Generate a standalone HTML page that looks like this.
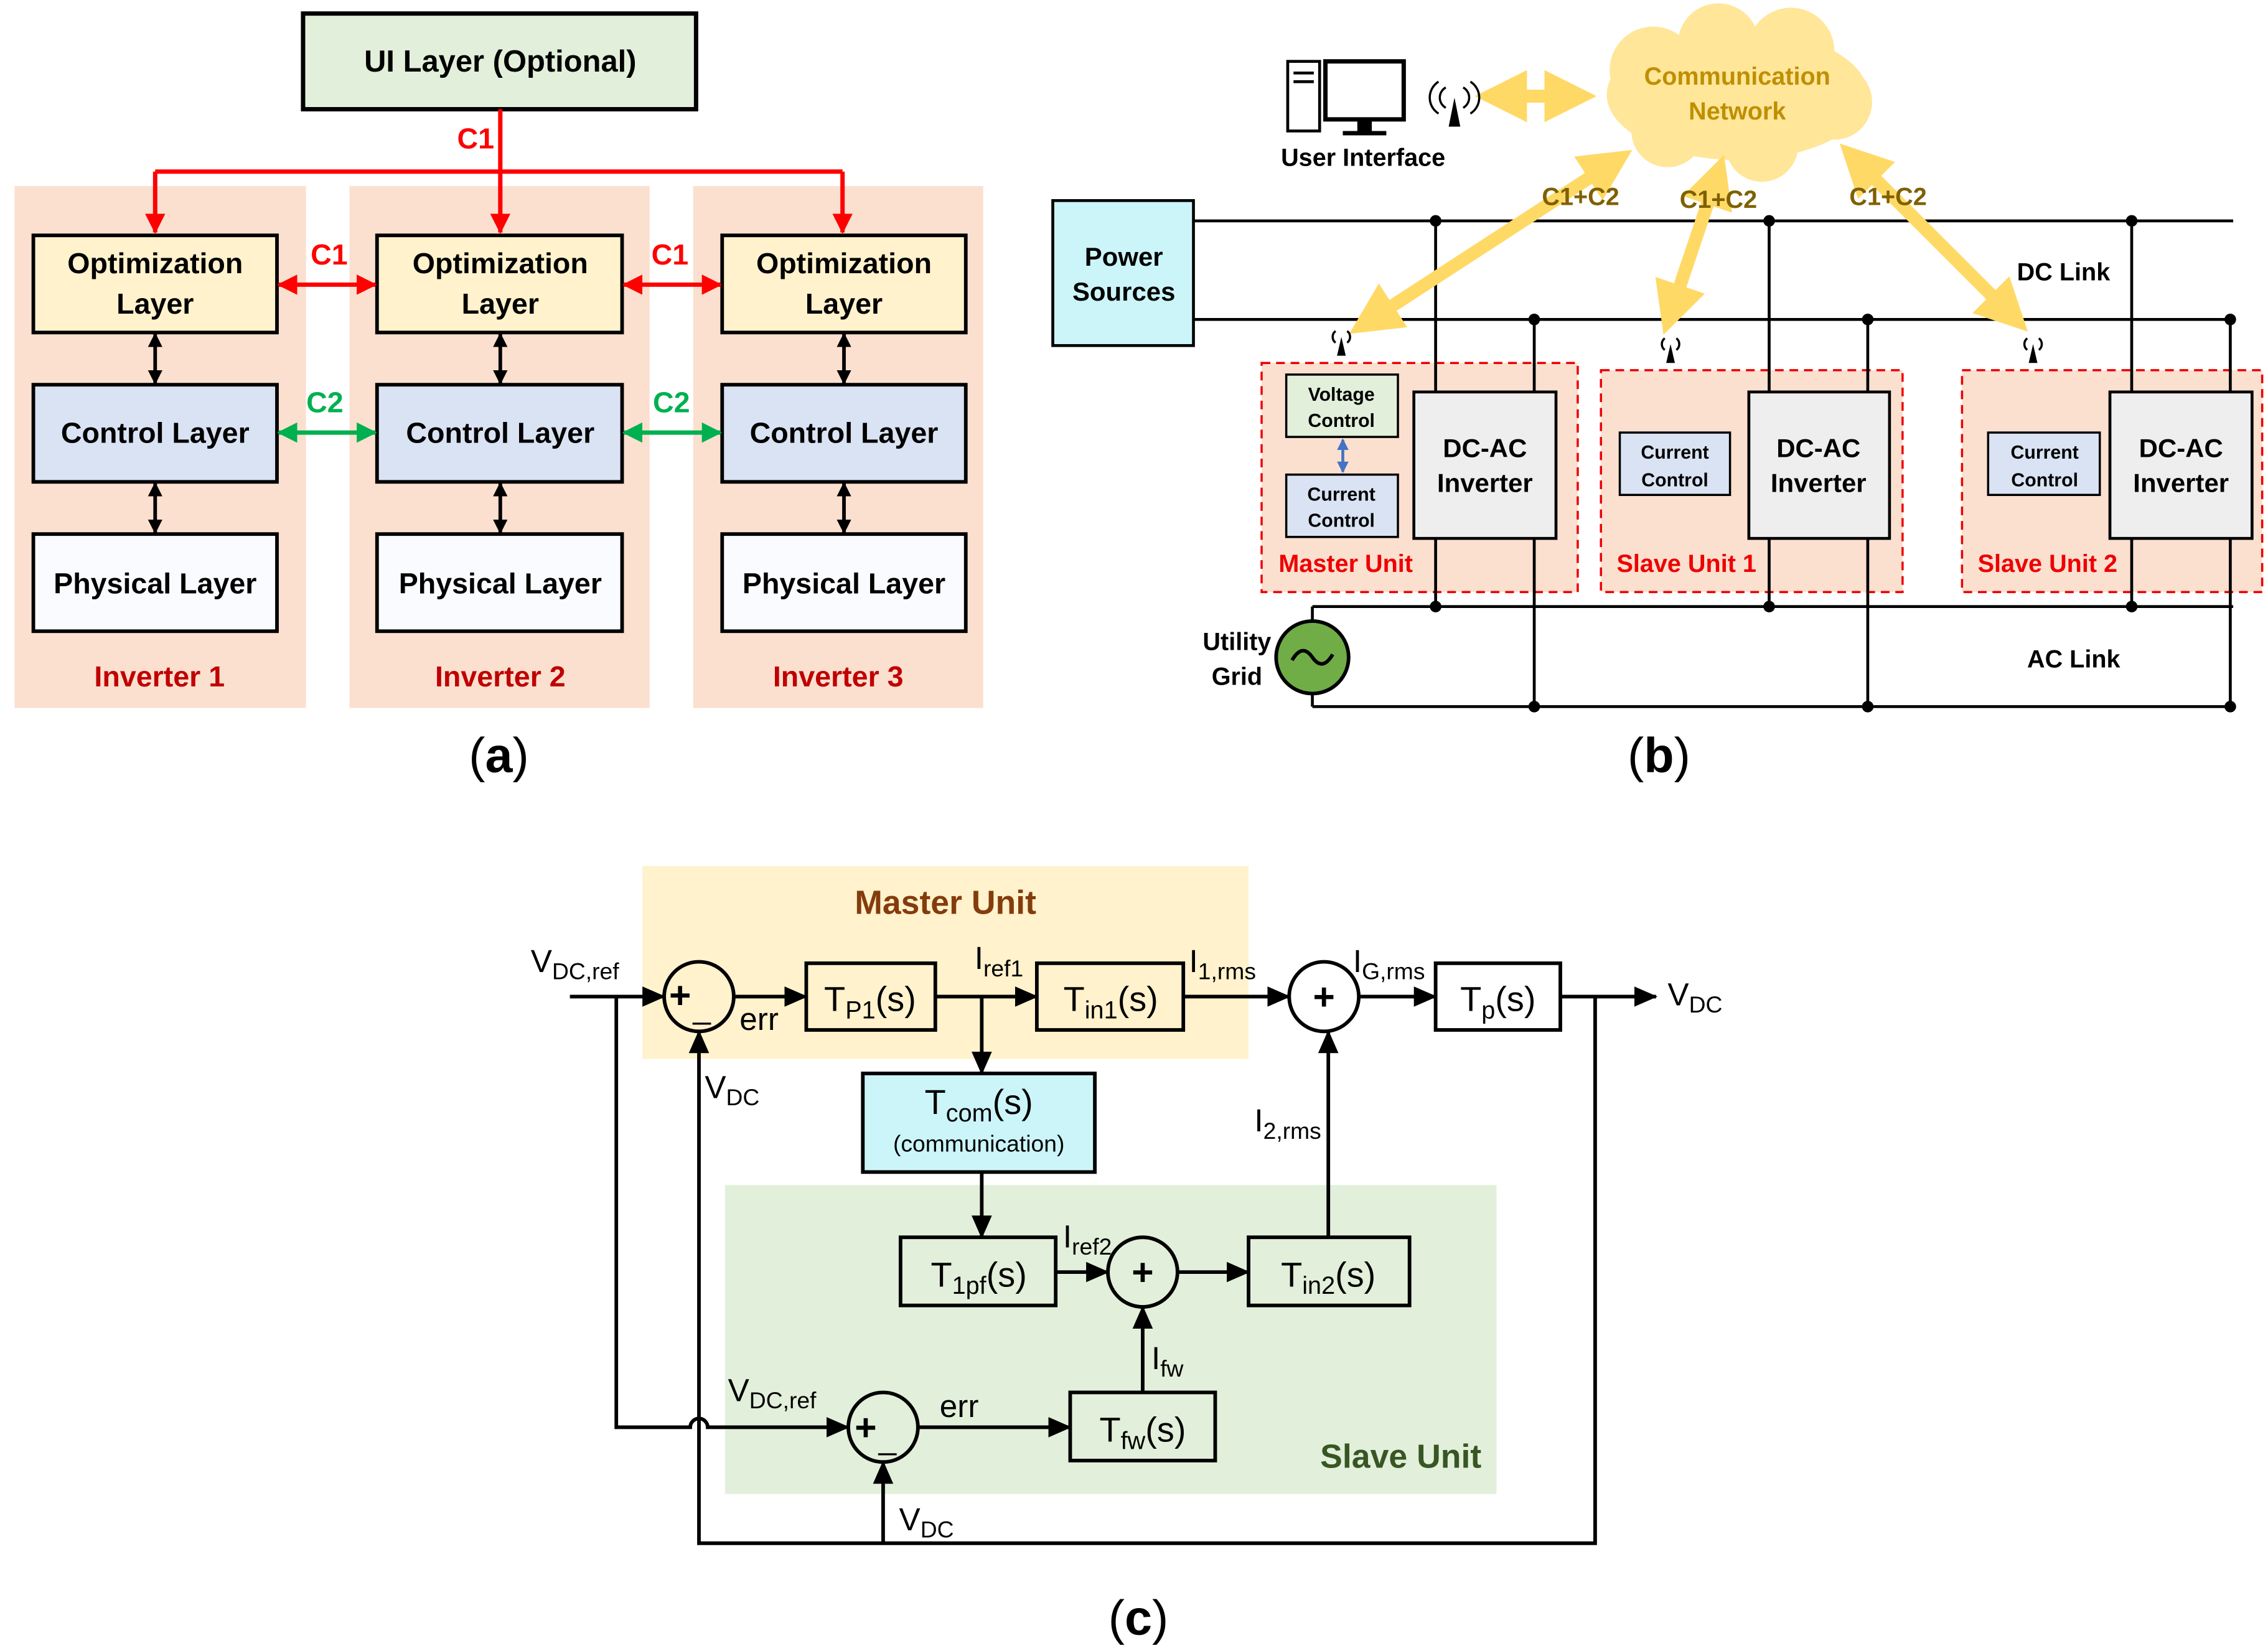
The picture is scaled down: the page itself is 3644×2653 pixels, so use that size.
<!DOCTYPE html>
<html><head><meta charset="utf-8"><style>
html,body{margin:0;padding:0;background:#fff}
svg{display:block}
text{font-family:"Liberation Sans",sans-serif}
.b{font-weight:bold}
</style></head><body>
<svg width="3644" height="2653" viewBox="0 0 1564 1138" xmlns="http://www.w3.org/2000/svg">
<defs>
<marker id="akb" markerWidth="16" markerHeight="16" refX="15" refY="8" orient="auto" markerUnits="userSpaceOnUse" viewBox="0 0 16 16"><path d="M0,1 L16,8 L0,15 z" fill="#000"/></marker>
<marker id="ar" markerWidth="14" markerHeight="14" refX="13" refY="7" orient="auto-start-reverse" markerUnits="userSpaceOnUse" viewBox="0 0 14 14"><path d="M0,0 L14,7 L0,14 z" fill="#f00"/></marker>
<marker id="ag" markerWidth="14" markerHeight="14" refX="13" refY="7" orient="auto-start-reverse" markerUnits="userSpaceOnUse" viewBox="0 0 14 14"><path d="M0,0 L14,7 L0,14 z" fill="#00b050"/></marker>
<marker id="a2" markerWidth="10" markerHeight="10" refX="9" refY="5" orient="auto-start-reverse" markerUnits="userSpaceOnUse" viewBox="0 0 10 10"><path d="M0,0 L10,5 L0,10 z" fill="#000"/></marker>
<marker id="ab" markerWidth="8" markerHeight="8" refX="7" refY="4" orient="auto-start-reverse" markerUnits="userSpaceOnUse" viewBox="0 0 8 8"><path d="M0,0 L8,4 L0,8 z" fill="#4472c4"/></marker>
<marker id="ay" markerWidth="4" markerHeight="4" refX="3" refY="2" orient="auto-start-reverse" viewBox="0 0 4 4"><path d="M0,0 L4,2 L0,4 z" fill="#ffd966"/></marker>
</defs>

<!-- Panel (a) -->
<rect x="10" y="128" width="201" height="360" fill="#fbe0d0"/>
<rect x="241" y="128" width="207" height="360" fill="#fbe0d0"/>
<rect x="478" y="128" width="200" height="360" fill="#fbe0d0"/>
<rect x="209" y="9" width="271" height="66" fill="#e2efda" stroke="#000" stroke-width="3"/>
<text x="345" y="49" font-size="21" text-anchor="middle" class="b">UI Layer (Optional)</text>
<path d="M345,75 V118 M107,118 H581" stroke="#f00" stroke-width="3" fill="none"/>
<g stroke="#f00" stroke-width="3" fill="none" marker-end="url(#ar)">
<line x1="107" y1="118" x2="107" y2="160"/><line x1="345" y1="118" x2="345" y2="160"/><line x1="581" y1="118" x2="581" y2="160"/>
</g>
<text x="328" y="102" font-size="20" fill="#f00" class="b" text-anchor="middle">C1</text>
<g stroke="#000" stroke-width="2.5">
<rect x="23" y="162" width="168" height="67" fill="#fff2cc"/><rect x="260" y="162" width="169" height="67" fill="#fff2cc"/><rect x="498" y="162" width="168" height="67" fill="#fff2cc"/>
<rect x="23" y="265" width="168" height="67" fill="#dae3f3"/><rect x="260" y="265" width="169" height="67" fill="#dae3f3"/><rect x="498" y="265" width="168" height="67" fill="#dae3f3"/>
<rect x="23" y="368" width="168" height="67" fill="#fafbfe"/><rect x="260" y="368" width="169" height="67" fill="#fafbfe"/><rect x="498" y="368" width="168" height="67" fill="#fafbfe"/>
</g>
<g font-size="20" text-anchor="middle" class="b">
<text x="107" y="188">Optimization</text><text x="107" y="216">Layer</text>
<text x="345" y="188">Optimization</text><text x="345" y="216">Layer</text>
<text x="582" y="188">Optimization</text><text x="582" y="216">Layer</text>
<text x="107" y="305">Control Layer</text><text x="345" y="305">Control Layer</text><text x="582" y="305">Control Layer</text>
<text x="107" y="409">Physical Layer</text><text x="345" y="409">Physical Layer</text><text x="582" y="409">Physical Layer</text>
</g>
<g font-size="20" text-anchor="middle" class="b" fill="#c00000">
<text x="110" y="473">Inverter 1</text><text x="345" y="473">Inverter 2</text><text x="578" y="473">Inverter 3</text>
</g>
<g stroke="#000" stroke-width="2.5" marker-start="url(#a2)" marker-end="url(#a2)">
<line x1="107" y1="230" x2="107" y2="264"/><line x1="345" y1="230" x2="345" y2="264"/><line x1="582" y1="230" x2="582" y2="264"/>
<line x1="107" y1="333" x2="107" y2="367"/><line x1="345" y1="333" x2="345" y2="367"/><line x1="582" y1="333" x2="582" y2="367"/>
</g>
<g stroke="#f00" stroke-width="3" marker-start="url(#ar)" marker-end="url(#ar)"><line x1="192" y1="196" x2="259" y2="196"/><line x1="430" y1="196" x2="497" y2="196"/></g>
<g stroke="#00b050" stroke-width="3" marker-start="url(#ag)" marker-end="url(#ag)"><line x1="192" y1="298" x2="259" y2="298"/><line x1="430" y1="298" x2="497" y2="298"/></g>
<g font-size="20" class="b" text-anchor="middle"><text x="227" y="182" fill="#f00">C1</text><text x="462" y="182" fill="#f00">C1</text><text x="224" y="284" fill="#00b050">C2</text><text x="463" y="284" fill="#00b050">C2</text></g>
<text x="344" y="532" font-size="34" text-anchor="middle" font-family="Liberation Serif,serif">(<tspan font-weight="bold">a</tspan>)</text>

<!-- Panel (b) -->
<rect x="870" y="250" width="218" height="158" fill="#fbe0d0" stroke="#e00" stroke-width="1.5" stroke-dasharray="6,4"/>
<rect x="1104" y="255" width="208" height="153" fill="#fbe0d0" stroke="#e00" stroke-width="1.5" stroke-dasharray="6,4"/>
<rect x="1353" y="255" width="207" height="153" fill="#fbe0d0" stroke="#e00" stroke-width="1.5" stroke-dasharray="6,4"/>
<g stroke="#000" stroke-width="2" fill="none">
<path d="M823,152 H1540 M823,220 H1540 M905,418 H1540 M905,487 H1540"/>
<path d="M990,152 V418 M1058,220 V487 M1220,152 V418 M1288,220 V487 M1470,152 V418 M1538,220 V487 M905,418 V428 M905,478 V487"/>
</g>
<g fill="#000"><circle cx="990" cy="152" r="4"/><circle cx="1220" cy="152" r="4"/><circle cx="1470" cy="152" r="4"/><circle cx="1058" cy="220" r="4"/><circle cx="1288" cy="220" r="4"/><circle cx="1538" cy="220" r="4"/><circle cx="990" cy="418" r="4"/><circle cx="1220" cy="418" r="4"/><circle cx="1470" cy="418" r="4"/><circle cx="1058" cy="487" r="4"/><circle cx="1288" cy="487" r="4"/><circle cx="1538" cy="487" r="4"/></g>
<rect x="726" y="138" width="97" height="100" fill="#ccf5fa" stroke="#000" stroke-width="2"/>
<text x="775" y="183" font-size="18" class="b" text-anchor="middle">Power</text><text x="775" y="207" font-size="18" class="b" text-anchor="middle">Sources</text>
<g stroke="#000" stroke-width="2" fill="#eeeeee"><rect x="975" y="270" width="98" height="101"/><rect x="1206" y="270" width="97" height="101"/><rect x="1455" y="270" width="98" height="101"/></g>
<g font-size="18" class="b" text-anchor="middle"><text x="1024" y="315">DC-AC</text><text x="1024" y="339">Inverter</text><text x="1254" y="315">DC-AC</text><text x="1254" y="339">Inverter</text><text x="1504" y="315">DC-AC</text><text x="1504" y="339">Inverter</text></g>
<rect x="887" y="258" width="77" height="43" fill="#e2efda" stroke="#000" stroke-width="1.5"/>
<rect x="887" y="327" width="77" height="43" fill="#dae3f3" stroke="#000" stroke-width="1.5"/>
<rect x="1117" y="298" width="76" height="43" fill="#dae3f3" stroke="#000" stroke-width="1.5"/>
<rect x="1371" y="298" width="77" height="43" fill="#dae3f3" stroke="#000" stroke-width="1.5"/>
<line x1="926" y1="303" x2="926" y2="325" stroke="#4472c4" stroke-width="2" marker-start="url(#ab)" marker-end="url(#ab)"/>
<g font-size="13" class="b" text-anchor="middle"><text x="925" y="276">Voltage</text><text x="925" y="294">Control</text><text x="925" y="345">Current</text><text x="925" y="363">Control</text>
<text x="1155" y="316">Current</text><text x="1155" y="335">Control</text><text x="1410" y="316">Current</text><text x="1410" y="335">Control</text></g>
<g font-size="17" class="b" text-anchor="middle" fill="#e00"><text x="928" y="394">Master Unit</text><text x="1163" y="394">Slave Unit 1</text><text x="1412" y="394">Slave Unit 2</text></g>
<text x="1423" y="193" font-size="17" class="b" text-anchor="middle">DC Link</text>
<text x="1430" y="460" font-size="17" class="b" text-anchor="middle">AC Link</text>
<text x="853" y="448" font-size="17" class="b" text-anchor="middle">Utility</text><text x="853" y="472" font-size="17" class="b" text-anchor="middle">Grid</text>
<circle cx="905" cy="453" r="25" fill="#70ad47" stroke="#000" stroke-width="2.5"/>
<path d="M891,455 q7,-12 14,-2 q7,10 14,-2" stroke="#000" stroke-width="2.5" fill="none"/>
<g fill="#ffe699">
<ellipse cx="1198" cy="65" rx="90" ry="45"/><circle cx="1140" cy="48" r="30"/><circle cx="1185" cy="30" r="28"/><circle cx="1235" cy="35" r="30"/><circle cx="1265" cy="70" r="26"/><circle cx="1150" cy="90" r="25"/><circle cx="1215" cy="100" r="25"/>
</g>
<text x="1198" y="58" font-size="17" class="b" text-anchor="middle" fill="#bf8f00">Communication</text>
<text x="1198" y="82" font-size="17" class="b" text-anchor="middle" fill="#bf8f00">Network</text>
<g stroke="#ffd966" stroke-width="9" marker-start="url(#ay)" marker-end="url(#ay)" fill="none">
<line x1="1026" y1="66" x2="1092" y2="66"/>
<line x1="1118" y1="108" x2="938" y2="225"/>
<line x1="1186" y1="115" x2="1150" y2="222"/>
<line x1="1275" y1="105" x2="1392" y2="222"/>
</g>
<g font-size="17" class="b" text-anchor="middle" fill="#7f6000"><text x="1090" y="141">C1+C2</text><text x="1185" y="143">C1+C2</text><text x="1302" y="141">C1+C2</text></g>
<rect x="888" y="42" width="22" height="48" fill="#fff" stroke="#000" stroke-width="2"/>
<rect x="914" y="42" width="54" height="40" fill="#fff" stroke="#000" stroke-width="3"/>
<path d="M936,82 v8 h-10 v3 h30 v-3 h-10 v-8" fill="#000"/>
<path d="M892,50 h14 M892,56 h14" stroke="#000" stroke-width="2"/>
<text x="940" y="114" font-size="17" class="b" text-anchor="middle">User Interface</text>
<g stroke="#000" stroke-width="1.5" fill="none">
<path d="M997,60 a8,8 0 0 0 0,14 M1009,60 a8,8 0 0 1 0,14 M992,56 a13,13 0 0 0 0,22 M1014,56 a13,13 0 0 1 0,22"/>
<path d="M921,228 a5,5 0 0 0 0,8 M929,228 a5,5 0 0 1 0,8 M1148,233 a5,5 0 0 0 0,8 M1156,233 a5,5 0 0 1 0,8 M1398,233 a5,5 0 0 0 0,8 M1406,233 a5,5 0 0 1 0,8"/>
</g>
<path d="M1003,67 l-4,20 h8z M925,232 l-3,13 h6z M1152,237 l-3,13 h6z M1402,237 l-3,13 h6z" fill="#000"/>
<text x="1144" y="532" font-size="34" text-anchor="middle" font-family="Liberation Serif,serif">(<tspan font-weight="bold">b</tspan>)</text>

<!-- Panel (c) -->
<rect x="443" y="597" width="418" height="133" fill="#fff2cc"/>
<rect x="500" y="817" width="532" height="213" fill="#e2efda"/>
<text x="652" y="630" font-size="23" class="b" text-anchor="middle" fill="#843c0c">Master Unit</text>
<text x="966" y="1012" font-size="23" class="b" text-anchor="middle" fill="#375623">Slave Unit</text>
<g stroke="#000" stroke-width="2.5" fill="none">
<rect x="556" y="664" width="89" height="46"/><rect x="715" y="664" width="101" height="46"/><rect x="990" y="664" width="86" height="46"/>
<rect x="621" y="853" width="107" height="47"/><rect x="861" y="853" width="111" height="47"/><rect x="738" y="960" width="100" height="47"/>
<circle cx="482" cy="687" r="24"/><circle cx="913" cy="687" r="24"/><circle cx="788" cy="877" r="24"/><circle cx="609" cy="984" r="24"/>
</g>
<rect x="595" y="740" width="160" height="68" fill="#ccf5fa" stroke="#000" stroke-width="2.5"/>
<g stroke="#000" stroke-width="2.5" fill="none" marker-end="url(#akb)">
<line x1="393" y1="687" x2="458" y2="687"/><line x1="506" y1="687" x2="556" y2="687"/><line x1="645" y1="687" x2="715" y2="687"/>
<line x1="677" y1="687" x2="677" y2="740"/><line x1="816" y1="687" x2="889" y2="687"/><line x1="937" y1="687" x2="990" y2="687"/>
<line x1="1076" y1="687" x2="1142" y2="687"/><path d="M1100,687 V1064 H482 V711"/>
<line x1="677" y1="808" x2="677" y2="853"/><line x1="728" y1="877" x2="764" y2="877"/><line x1="812" y1="877" x2="861" y2="877"/>
<line x1="916" y1="853" x2="916" y2="711"/><line x1="788" y1="960" x2="788" y2="901"/><line x1="633" y1="984" x2="738" y2="984"/>
<path d="M425,687 V984 H476 a6,6 0 0 1 12,0 H585"/><line x1="609" y1="1064" x2="609" y2="1008"/>
</g>
<g font-size="24" text-anchor="middle">
<text x="600" y="697">T<tspan font-size="17" dy="5">P1</tspan><tspan dy="-5">(s)</tspan></text>
<text x="766" y="697">T<tspan font-size="17" dy="5">in1</tspan><tspan dy="-5">(s)</tspan></text>
<text x="1033" y="697">T<tspan font-size="17" dy="5">p</tspan><tspan dy="-5">(s)</tspan></text>
<text x="675" y="768">T<tspan font-size="17" dy="5">com</tspan><tspan dy="-5">(s)</tspan></text>
<text x="675" y="887">T<tspan font-size="17" dy="5">1pf</tspan><tspan dy="-5">(s)</tspan></text>
<text x="916" y="887">T<tspan font-size="17" dy="5">in2</tspan><tspan dy="-5">(s)</tspan></text>
<text x="788" y="994">T<tspan font-size="17" dy="5">fw</tspan><tspan dy="-5">(s)</tspan></text>
</g>
<text x="675" y="794" font-size="16" text-anchor="middle">(communication)</text>
<g font-size="22">
<text x="366" y="670">V<tspan font-size="16" dy="5">DC,ref</tspan></text>
<text x="510" y="710">err</text>
<text x="486" y="757">V<tspan font-size="16" dy="5">DC</tspan></text>
<text x="672" y="668">I<tspan font-size="16" dy="5">ref1</tspan></text>
<text x="820" y="670">I<tspan font-size="16" dy="5">1,rms</tspan></text>
<text x="933" y="670">I<tspan font-size="16" dy="5">G,rms</tspan></text>
<text x="1150" y="693">V<tspan font-size="16" dy="5">DC</tspan></text>
<text x="865" y="780">I<tspan font-size="16" dy="5">2,rms</tspan></text>
<text x="733" y="860">I<tspan font-size="16" dy="5">ref2</tspan></text>
<text x="794" y="944">I<tspan font-size="16" dy="5">fw</tspan></text>
<text x="502" y="966">V<tspan font-size="16" dy="5">DC,ref</tspan></text>
<text x="648" y="977">err</text>
<text x="620" y="1055">V<tspan font-size="16" dy="5">DC</tspan></text>
</g>
<g font-size="26" text-anchor="middle" class="b">
<text x="469" y="695">+</text><text x="913" y="696">+</text><text x="788" y="886">+</text><text x="597" y="993">+</text>
</g>
<g font-size="22" text-anchor="middle">
<text x="484" y="702">_</text><text x="612" y="999">_</text>
</g>
<text x="785" y="1127" font-size="34" text-anchor="middle" font-family="Liberation Serif,serif">(<tspan font-weight="bold">c</tspan>)</text>
</svg>
</body></html>
